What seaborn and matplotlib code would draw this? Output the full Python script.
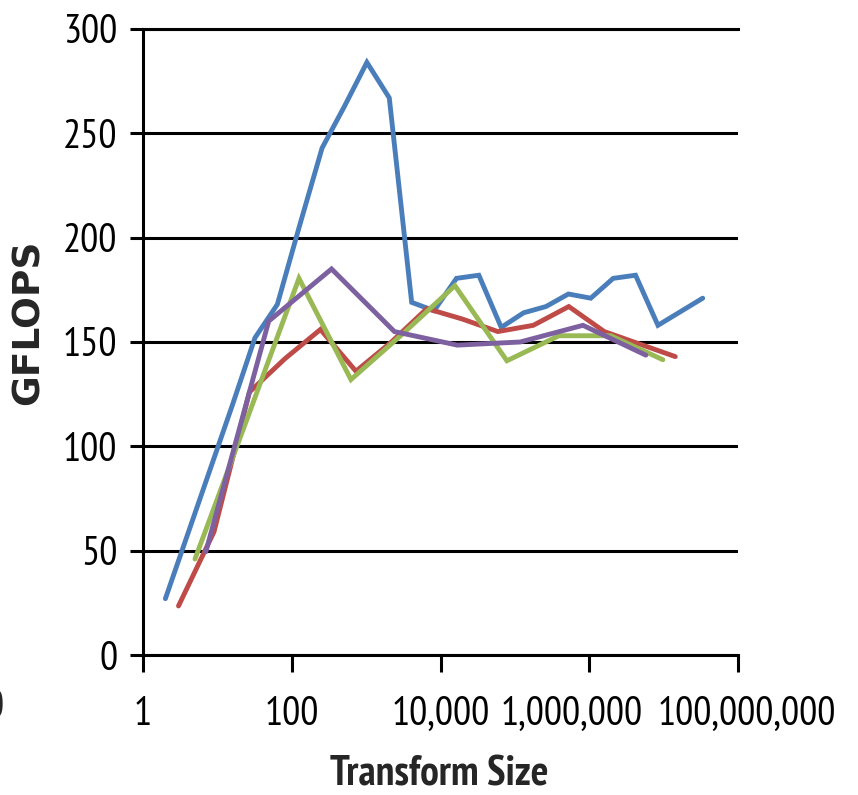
import pandas as pd
import matplotlib
matplotlib.use("Agg")
import matplotlib.pyplot as plt
import matplotlib.ticker as mticker
from matplotlib.transforms import ScaledTranslation
import seaborn as sns

# --- data (transform size, GFLOPS) ---
blue_n = [2, 4, 8, 16, 32, 64, 128, 256, 512, 1024, 2048, 4096, 8192, 16384,
          32768, 65536, 131072, 262144, 524288, 1048576, 2097152, 4194304,
          8388608, 33554432]
blue_gflops = [27, 58, 89, 120, 152, 168, 206, 243, 263, 284, 267, 169, 165,
               180.5, 182, 157, 164, 167, 173, 171, 180.5, 182, 158, 171]

red_n = [3, 9, 27, 81, 243, 729, 2187, 6561, 19683, 59049, 177147, 531441,
         1594323, 4782969, 14348907]
red_gflops = [23.5, 59, 126, 142, 156, 136, 150, 166, 161, 155, 158, 167,
              155, 149, 143]

green_n = [5, 25, 125, 625, 3125, 15625, 78125, 390625, 1953125, 9765625]
green_gflops = [46, 113, 180.5, 132, 154, 177, 141, 153, 153, 141.5]

purple_n = [7, 49, 343, 2401, 16807, 117649, 823543, 5764801]
purple_gflops = [49.5, 160, 185, 155, 148.5, 150, 158, 143.7]

x_ticks = [1, 100, 10000, 1000000, 100000000]
x_tick_labels = ["1", "100", "10,000", "1,000,000", "100,000,000"]
y_ticks = [0, 50, 100, 150, 200, 250, 300]

colors = {"radix2": "#4A7EBB", "radix3": "#BE4B48",
          "radix5": "#98B954", "radix7": "#7D60A0"}

df = pd.concat([
    pd.DataFrame({"n": blue_n, "gflops": blue_gflops, "series": "radix2"}),
    pd.DataFrame({"n": red_n, "gflops": red_gflops, "series": "radix3"}),
    pd.DataFrame({"n": green_n, "gflops": green_gflops, "series": "radix5"}),
    pd.DataFrame({"n": purple_n, "gflops": purple_gflops, "series": "radix7"}),
], ignore_index=True)

sns.set_style("white")
plt.rcParams["font.family"] = ["PT Sans Narrow", "DejaVu Sans"]

fig = plt.figure(figsize=(8.58, 7.95), dpi=100)
ax = fig.add_axes([143 / 858, 140 / 795, (738 - 143) / 858, (655 - 29) / 795])

sns.lineplot(data=df, x="n", y="gflops", hue="series", palette=colors,
             estimator=None, sort=True, legend=False, linewidth=3.5,
             solid_capstyle="round", solid_joinstyle="miter", ax=ax)

ax.set_xscale("log")
ax.set_xlim(1, 1e8)
ax.set_ylim(0, 300)
ax.set_xticks(x_ticks)
ax.set_xticklabels(x_tick_labels)
ax.xaxis.set_minor_locator(mticker.NullLocator())
ax.set_yticks(y_ticks)
ax.set_xlabel("")
ax.set_ylabel("")

ax.set_axisbelow(True)
ax.yaxis.grid(True, color="black", linewidth=2.2)
ax.xaxis.grid(False)
for side in ["left", "bottom", "top"]:
    ax.spines[side].set_visible(True)
    ax.spines[side].set_color("black")
    ax.spines[side].set_linewidth(2.2)
ax.spines["right"].set_visible(False)

ax.tick_params(axis="x", direction="out", length=12.2, width=2.2, pad=17,
               labelsize=29, colors="black", bottom=True, top=False)
ax.tick_params(axis="y", direction="out", length=9.4, width=2.2, pad=9,
               labelsize=29, colors="black", left=True, right=False)

# the two long labels are nudged apart like in the original
labels = ax.get_xticklabels()
labels[3].set_transform(labels[3].get_transform()
                        + ScaledTranslation(-18 / 100, 0, fig.dpi_scale_trans))
labels[4].set_transform(labels[4].get_transform()
                        + ScaledTranslation(9 / 100, 0, fig.dpi_scale_trans))

fig.text(439 / 858, 1 - 775 / 795, "Transform Size", ha="center", va="center",
         fontsize=30, fontweight="bold")
fig.text(29 / 858, 1 - 322 / 795, "GFLOPS", ha="center", va="center",
         rotation=90, fontsize=27, fontweight="bold",
         family=["DejaVu Sans"])
# leftover label from a neighbouring chart, cut at the edge
fig.text(3.5 / 858, 1 - 708 / 795, "0", ha="right", va="center", fontsize=29)

fig.savefig("out.png", dpi=100)
